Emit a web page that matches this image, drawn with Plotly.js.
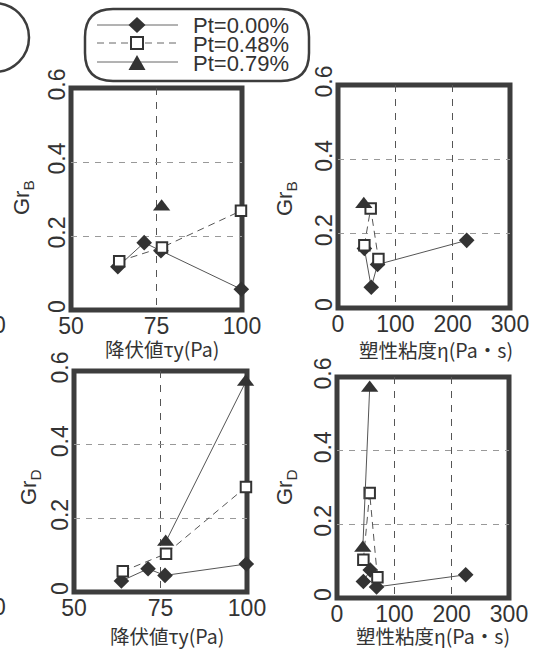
<!DOCTYPE html>
<html><head><meta charset="utf-8">
<script src="https://cdn.plot.ly/plotly-3.0.1.min.js"></script>
<style>html,body{margin:0;padding:0;background:#fff}#chart{width:539px;height:652px}</style>
</head><body><div id="chart"></div>
<script>
// ---- data ----
const seriesNames = ['Pt=0.00%', 'Pt=0.48%', 'Pt=0.79%'];
// Pt = 0.00 %
const tauY_000 = [63.7, 71.4, 76.3, 99.8];
const eta_000  = [69, 224.5, 46, 58];
const grB_000  = [0.117, 0.182, 0.16, 0.056];
const grD_000  = [0.030, 0.063, 0.045, 0.076];
// Pt = 0.48 %
const tauY_048 = [64.1, 76.6, 99.7];
const eta_048  = [70.5, 46, 57];
const grB_048  = [0.132, 0.169, 0.268];
const grD_048  = [0.056, 0.104, 0.285];
// Pt = 0.79 %
const tauY_079 = [76.5, 99.6];
const eta_079  = [45, 57];
const grB_079  = [0.279, null];
const grD_079  = [0.136, 0.57];

const xTicksTau = [50, 75, 100];
const xTicksEta = [0, 100, 200, 300];
const yTicks = [0, 0.2, 0.4, 0.6];
const yTickText = ['0', '0.2', '0.4', '0.6'];
const xTitleTau = '降伏値τy(Pa)';
const xTitleEta = '塑性粘度η(Pa・s)';
const yTitleB = 'Gr<sub>B</sub>';
const yTitleD = 'Gr<sub>D</sub>';

// ---- styling / layout ----
const W = 539, H = 652;
const LATIN = '"Liberation Sans", Arial, sans-serif';
const CJK = '"Noto Sans CJK JP", "Liberation Sans", sans-serif';
const INK = '#333';
const px = v => v / W;
const py = v => 1 - v / H;

const series = [
  {name: seriesNames[0], tau: tauY_000, eta: eta_000, b: grB_000, d: grD_000,
   marker: {symbol: 'diamond', size: 12, color: INK, line: {width: 0}},
   line: {color: '#555', width: 1, dash: 'solid'}},
  {name: seriesNames[1], tau: tauY_048, eta: eta_048, b: grB_048, d: grD_048,
   marker: {symbol: 'square', size: 10.5, color: '#fff', line: {width: 2, color: INK}},
   line: {color: '#555', width: 1, dash: '7px,5px'}},
  {name: seriesNames[2], tau: tauY_079, eta: eta_079, b: grB_079, d: grD_079,
   marker: {symbol: 'triangle-up', size: 15, color: INK, line: {width: 0}},
   line: {color: '#555', width: 1, dash: 'solid'}}
];

function sortedBy(xs, ys) {
  const idx = xs.map((_, i) => i).sort((a, b) => xs[a] - xs[b]);
  return {x: idx.map(i => xs[i]), y: idx.map(i => ys[i])};
}

const traces = [];
series.forEach((s) => {
  const panels = [
    {x: s.tau, y: s.b, xa: 'x',  ya: 'y'},
    {x: s.eta, y: s.b, xa: 'x2', ya: 'y2'},
    {x: s.tau, y: s.d, xa: 'x3', ya: 'y3'},
    {x: s.eta, y: s.d, xa: 'x4', ya: 'y4'}
  ];
  panels.forEach((p) => {
    const d = sortedBy(p.x, p.y);
    traces.push({
      type: 'scatter', mode: 'lines+markers',
      x: d.x, y: d.y, xaxis: p.xa, yaxis: p.ya,
      name: s.name, showlegend: false,
      marker: s.marker, line: s.line, cliponaxis: false, connectgaps: false,
      hoverinfo: 'skip'
    });
  });
});

const tickFont = {family: LATIN, size: 23, color: INK};
const titleFont = {family: CJK, size: 19.5, color: INK};
const yTitleFont = {family: LATIN, size: 22, color: INK};

function xAxis(domain, range, tickvals, anchor) {
  return {domain, range, tickvals, anchor, ticks: '', showline: false, zeroline: false,
    showgrid: true, gridcolor: '#555', gridwidth: 1, griddash: '7px,7px',
    tickfont: tickFont, automargin: false, fixedrange: true};
}
function yAxis(domain, anchor) {
  return {domain, range: [0, 0.6], tickvals: yTicks, ticktext: yTickText, anchor,
    tickangle: -90, ticks: '', showline: false, zeroline: false,
    showgrid: true, gridcolor: '#999', gridwidth: 1, griddash: '6px,6px',
    tickfont: tickFont, automargin: false, fixedrange: true};
}

const dom = {
  p1: {x: [px(71), px(242)],  y: [py(310), py(88)]},
  p2: {x: [px(338), px(510)], y: [py(308), py(85)]},
  p3: {x: [px(74), px(247)],  y: [py(592), py(371)]},
  p4: {x: [px(337), px(509)], y: [py(598), py(377)]}
};

const layout = {
  width: W, height: H,
  margin: {l: 0, r: 0, t: 0, b: 0},
  paper_bgcolor: '#fff', plot_bgcolor: '#fff',
  font: {family: CJK, color: INK},
  showlegend: false,
  xaxis:  xAxis(dom.p1.x, [50, 100], xTicksTau, 'y'),
  yaxis:  yAxis(dom.p1.y, 'x'),
  xaxis2: xAxis(dom.p2.x, [0, 300], xTicksEta, 'y2'),
  yaxis2: yAxis(dom.p2.y, 'x2'),
  xaxis3: xAxis(dom.p3.x, [50, 100], xTicksTau, 'y3'),
  yaxis3: yAxis(dom.p3.y, 'x3'),
  xaxis4: xAxis(dom.p4.x, [0, 300], xTicksEta, 'y4'),
  yaxis4: yAxis(dom.p4.y, 'x4'),
  shapes: [],
  annotations: []
};

// thick frames around the four panels
[['x', 'y'], ['x2', 'y2'], ['x3', 'y3'], ['x4', 'y4']].forEach(([xa, ya]) => {
  layout.shapes.push({type: 'rect', xref: xa + ' domain', yref: ya + ' domain',
    x0: 0, x1: 1, y0: 0, y1: 1, layer: 'below', line: {color: '#3d3d3d', width: 5}});
});

// axis titles (placed in pixels to match the reference)
const axisTitles = [
  {text: xTitleTau, x: 162, y: 348, angle: 0, font: titleFont},
  {text: xTitleEta, x: 436, y: 349, angle: 0, font: titleFont},
  {text: xTitleTau, x: 167, y: 635, angle: 0, font: titleFont},
  {text: xTitleEta, x: 433, y: 635, angle: 0, font: titleFont},
  {text: yTitleB, x: 23, y: 198, angle: -90, font: yTitleFont},
  {text: yTitleB, x: 286, y: 199, angle: -90, font: yTitleFont},
  {text: yTitleD, x: 30, y: 487, angle: -90, font: yTitleFont},
  {text: yTitleD, x: 286, y: 487, angle: -90, font: yTitleFont}
];
axisTitles.forEach(t => layout.annotations.push({xref: 'paper', yref: 'paper', x: px(t.x), y: py(t.y),
  xanchor: 'center', yanchor: 'middle', text: t.text, textangle: t.angle, showarrow: false,
  borderpad: 0, font: t.font}));

// ---- legend (rounded frame, key lines, key symbols, labels) ----
const P = (x, y) => px(x) + ',' + py(y);
function roundRect(x0, y0, x1, y1, r) {
  return 'M' + P(x0 + r, y0) + ' L' + P(x1 - r, y0) + ' Q' + P(x1, y0) + ' ' + P(x1, y0 + r) +
    ' L' + P(x1, y1 - r) + ' Q' + P(x1, y1) + ' ' + P(x1 - r, y1) +
    ' L' + P(x0 + r, y1) + ' Q' + P(x0, y1) + ' ' + P(x0, y1 - r) +
    ' L' + P(x0, y0 + r) + ' Q' + P(x0, y0) + ' ' + P(x0 + r, y0) + ' Z';
}
layout.shapes.push({type: 'path', xref: 'paper', yref: 'paper', path: roundRect(85, 9, 309, 81, 28),
  line: {color: '#3d3d3d', width: 2.5}, layer: 'above'});

const legRowY = [25, 43, 62];
const legKeyX = 137, legLine = [97, 178], legTextX = 192;
series.forEach((s, i) => {
  const y = legRowY[i];
  layout.shapes.push({type: 'line', xref: 'paper', yref: 'paper',
    x0: px(legLine[0]), x1: px(legLine[1]), y0: py(y), y1: py(y),
    line: {color: '#666', width: 1, dash: s.line.dash}});
  layout.annotations.push({xref: 'paper', yref: 'paper', x: px(legTextX), y: py(y + 1),
    xanchor: 'left', yanchor: 'middle', text: s.name, showarrow: false, borderpad: 0,
    font: {family: LATIN, size: 22, color: INK}});
});
// key symbols
layout.shapes.push({type: 'path', xref: 'paper', yref: 'paper', fillcolor: INK, line: {width: 0},
  path: 'M' + P(legKeyX - 8.5, legRowY[0]) + ' L' + P(legKeyX, legRowY[0] - 8) + ' L' + P(legKeyX + 8.5, legRowY[0]) +
        ' L' + P(legKeyX, legRowY[0] + 8) + ' Z'});
layout.shapes.push({type: 'rect', xref: 'paper', yref: 'paper', fillcolor: '#fff', line: {width: 2, color: INK},
  x0: px(legKeyX - 6), x1: px(legKeyX + 6), y0: py(legRowY[1] + 6), y1: py(legRowY[1] - 6)});
layout.shapes.push({type: 'path', xref: 'paper', yref: 'paper', fillcolor: INK, line: {width: 0},
  path: 'M' + P(legKeyX - 8.5, legRowY[2] + 8) + ' L' + P(legKeyX + 8.5, legRowY[2] + 8) + ' L' + P(legKeyX, legRowY[2] - 7) + ' Z'});

// partial circle label at top-left edge (cropped neighbour)
layout.shapes.push({type: 'circle', xref: 'paper', yref: 'paper',
  x0: px(-40), x1: px(29), y0: py(72), y1: py(3), line: {color: '#3d3d3d', width: 2.5}});

// cropped tick labels of the neighbouring charts at the left edge
[325, 607].forEach(yy => layout.annotations.push({xref: 'paper', yref: 'paper', x: 0, y: py(yy),
  xanchor: 'right', yanchor: 'middle', xshift: 8, text: '0', showarrow: false, font: tickFont}));

Plotly.newPlot('chart', traces, layout, {staticPlot: true, displayModeBar: false});
</script></body></html>
